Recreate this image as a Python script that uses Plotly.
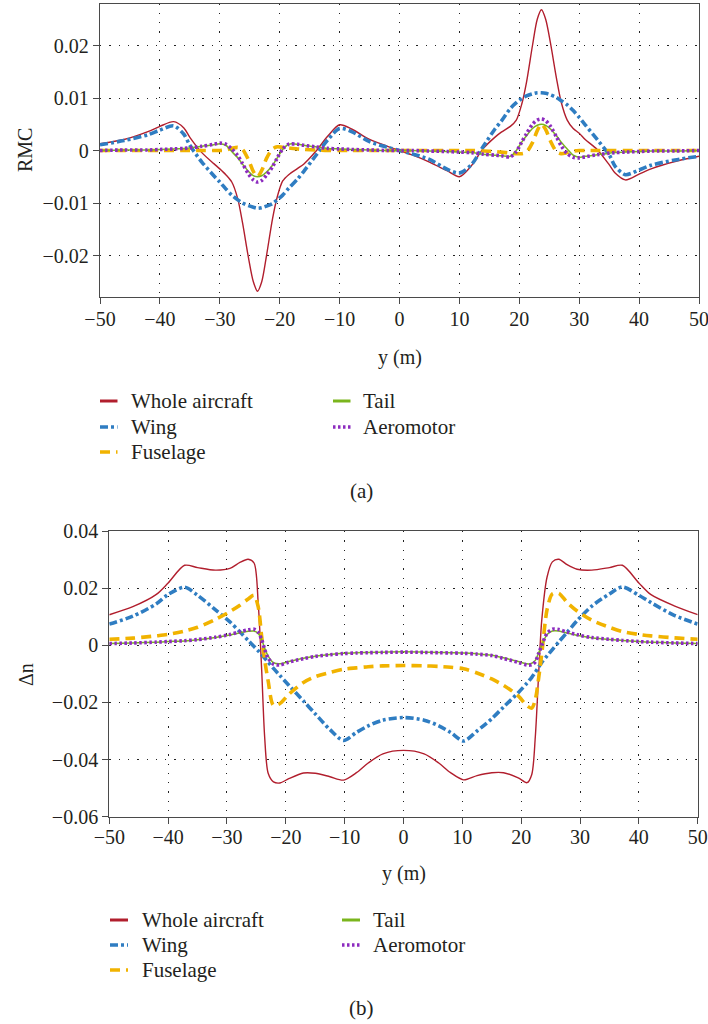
import plotly.graph_objects as go

# ---------------------------------------------------------------- data
SERIES = ["Whole aircraft", "Wing", "Fuselage", "Tail", "Aeromotor"]

# (a) rolling moment coefficient along the span position y
y_a = [-50, -46, -42, -40, -37.7, -36, -35, -33, -31, -30,
       -29, -28, -27, -26.2, -25.2, -24.4, -23.7, -23, -22.2, -21.2,
       -20.4, -19.5, -18.5, -17, -16, -14, -12, -10, -8, -5, -2,
       0,
       2, 5, 8, 10, 12, 14, 16, 17, 18.5, 19.5,
       20.4, 21.2, 22.2, 23, 23.7, 24.4, 25.2, 26.2, 27, 28,
       29, 30, 31, 33, 35, 36, 37.7, 40, 42, 46, 50]

rmc_whole = [0.0013, 0.0021, 0.0036, 0.0046, 0.0055, 0.0043, 0.0025, -0.0004, -0.0025, -0.0035,
             -0.0046, -0.0060, -0.0092, -0.0138, -0.0205, -0.0250, -0.0268, -0.0250, -0.0200, -0.0130,
             -0.0088, -0.0058, -0.0046, -0.0034, -0.0026, -0.0002, 0.0027, 0.0049, 0.0041, 0.0021, 0.0008,
             0.0,
             -0.0008, -0.0022, -0.0039, -0.0050, -0.0029, 0.0004, 0.0026, 0.0035, 0.0046, 0.0058,
             0.0088, 0.0130, 0.0200, 0.0250, 0.0268, 0.0250, 0.0205, 0.0138, 0.0092, 0.0058,
             0.0042, 0.0033, 0.0021, 0.0002, -0.0027, -0.0043, -0.0056, -0.0045, -0.0035, -0.0021, -0.0011]

rmc_wing = [0.0011, 0.0019, 0.0030, 0.0039, 0.0047, 0.0031, 0.0010, -0.0022, -0.0048, -0.0060,
            -0.0073, -0.0085, -0.0094, -0.0100, -0.0105, -0.0108, -0.0110, -0.0109, -0.0106, -0.0101,
            -0.0094, -0.0085, -0.0072, -0.0054, -0.0040, -0.0010, 0.0020, 0.0042, 0.0036, 0.0017, 0.0006,
            0.0,
            -0.0006, -0.0017, -0.0036, -0.0043, -0.0027, 0.0008, 0.0042, 0.0056, 0.0080, 0.0091,
            0.0099, 0.0104, 0.0108, 0.0110, 0.0110, 0.0109, 0.0106, 0.0101, 0.0095, 0.0087,
            0.0076, 0.0063, 0.0049, 0.0021, -0.0008, -0.0030, -0.0046, -0.0037, -0.0028, -0.0018, -0.0011]

rmc_fuselage = [0.0, 0.0, 0.0, 0.0, 0.0, 0.0, 0.0, 0.0, 0.0, 0.0,
                0.0001, 0.0004, 0.0006, 0.0002, -0.0018, -0.0040, -0.0050, -0.0038, -0.0015, 0.0003,
                0.0007, 0.0006, 0.0005, 0.0003, 0.0002, 0.0001, 0.0, 0.0, 0.0, 0.0, 0.0,
                0.0,
                0.0, 0.0, 0.0, 0.0, 0.0, -0.0001, -0.0002, -0.0003, -0.0005, -0.0006,
                -0.0006, -0.0003, 0.0015, 0.0038, 0.0050, 0.0040, 0.0018, -0.0002, -0.0006, -0.0004,
                -0.0001, 0.0, 0.0, 0.0, 0.0, 0.0, 0.0, 0.0, 0.0, 0.0, 0.0]

rmc_tail = [0.0, 0.0001, 0.0001, 0.0002, 0.0003, 0.0004, 0.0005, 0.0008, 0.0011, 0.0013,
            0.0010, -0.0002, -0.0014, -0.0026, -0.0040, -0.0048, -0.0050, -0.0048, -0.0041, -0.0028,
            -0.0014, 0.0002, 0.0012, 0.0012, 0.0010, 0.0007, 0.0004, 0.0003, 0.0002, 0.0001, 0.0,
            0.0,
            0.0, -0.0001, -0.0002, -0.0003, -0.0004, -0.0007, -0.0009, -0.0010, -0.0011, 0.0,
            0.0016, 0.0028, 0.0042, 0.0048, 0.0050, 0.0048, 0.0041, 0.0028, 0.0016, 0.0003,
            -0.0009, -0.0013, -0.0011, -0.0008, -0.0005, -0.0004, -0.0003, -0.0002, -0.0001, -0.0001, 0.0]

rmc_aeromotor = [0.0, 0.0001, 0.0001, 0.0002, 0.0003, 0.0004, 0.0005, 0.0008, 0.0012, 0.0014,
                 0.0012, 0.0003, -0.0010, -0.0025, -0.0045, -0.0056, -0.0060, -0.0057, -0.0047, -0.0031,
                 -0.0014, 0.0003, 0.0012, 0.0012, 0.0010, 0.0007, 0.0004, 0.0003, 0.0002, 0.0001, 0.0,
                 0.0,
                 0.0, -0.0001, -0.0002, -0.0003, -0.0004, -0.0007, -0.0009, -0.0010, -0.0012, -0.0002,
                 0.0016, 0.0032, 0.0050, 0.0058, 0.0060, 0.0057, 0.0046, 0.0026, 0.0009, -0.0006,
                 -0.0013, -0.0014, -0.0012, -0.0008, -0.0005, -0.0004, -0.0003, -0.0002, -0.0001, -0.0001, 0.0]

# (b) load factor increment along the span position y
y_b = [-50, -46, -42, -40, -37.2, -35, -32, -29.5, -27.8, -26.4,
       -25.4, -24.7, -24.1, -23.6, -23, -22.1, -21, -19.5, -17, -15,
       -12.5, -10.2, -8, -6, -3.5,
       0,
       3.5, 6, 8, 10.2, 12.5, 15, 17, 19.5, 21, 21.8,
       22.4, 23, 23.5, 24.4, 25.3, 26.4, 27.8, 29.5, 32, 35,
       37.2, 40, 42, 46, 50]

dn_whole = [0.0107, 0.0135, 0.0178, 0.0218, 0.0280, 0.0272, 0.0263, 0.0269, 0.0290, 0.0301,
            0.0288, 0.0150, -0.0088, -0.0320, -0.0448, -0.0478, -0.0482, -0.0467, -0.0447, -0.0448,
            -0.0460, -0.0472, -0.0446, -0.0412, -0.0380,
            -0.0368,
            -0.0380, -0.0412, -0.0446, -0.0471, -0.0456, -0.0446, -0.0446, -0.0464, -0.0481, -0.0452,
            -0.0321, -0.0088, 0.0088, 0.0239, 0.0292, 0.0301, 0.0282, 0.0266, 0.0263, 0.0272,
            0.0280, 0.0218, 0.0178, 0.0138, 0.0107]

dn_wing = [0.0074, 0.0102, 0.0145, 0.0178, 0.0203, 0.0175, 0.0125, 0.0082, 0.0047, 0.0017,
           -0.0004, -0.0019, -0.0033, -0.0045, -0.0059, -0.0081, -0.0106, -0.0140, -0.0195, -0.0240,
           -0.0295, -0.0333, -0.0305, -0.0282, -0.0262,
           -0.0253,
           -0.0262, -0.0282, -0.0305, -0.0335, -0.0300, -0.0257, -0.0216, -0.0166, -0.0132, -0.0112,
           -0.0095, -0.0075, -0.0060, -0.0037, -0.0015, 0.0012, 0.0045, 0.0086, 0.0137, 0.0180,
           0.0204, 0.0175, 0.0150, 0.0105, 0.0074]

dn_fuselage = [0.0021, 0.0025, 0.0033, 0.0038, 0.0050, 0.0063, 0.0090, 0.0118, 0.0140, 0.0162,
               0.0175, 0.0135, 0.0030, -0.0050, -0.0125, -0.0210, -0.0204, -0.0172, -0.0130, -0.0110,
               -0.0095, -0.0084, -0.0079, -0.0075, -0.0072,
               -0.0071,
               -0.0072, -0.0074, -0.0077, -0.0082, -0.0097, -0.0118, -0.0140, -0.0177, -0.0212, -0.0220,
               -0.0190, -0.0110, -0.0030, 0.0125, 0.0180, 0.0182, 0.0150, 0.0120, 0.0088, 0.0063,
               0.0048, 0.0038, 0.0033, 0.0026, 0.0021]

dn_tail = [0.0006, 0.0008, 0.0011, 0.0013, 0.0015, 0.0019, 0.0027, 0.0036, 0.0044, 0.0049,
           0.0050, 0.0041, 0.0020, -0.0010, -0.0038, -0.0061, -0.0065, -0.0057, -0.0045, -0.0038,
           -0.0032, -0.0028, -0.0026, -0.0025, -0.0024,
           -0.0023,
           -0.0024, -0.0025, -0.0026, -0.0027, -0.0030, -0.0035, -0.0044, -0.0057, -0.0065, -0.0063,
           -0.0053, -0.0025, 0.0000, 0.0038, 0.0050, 0.0050, 0.0043, 0.0035, 0.0026, 0.0020,
           0.0017, 0.0013, 0.0011, 0.0008, 0.0006]

dn_aeromotor = [0.0006, 0.0008, 0.0011, 0.0013, 0.0016, 0.0020, 0.0028, 0.0038, 0.0047, 0.0054,
                0.0056, 0.0045, 0.0020, -0.0014, -0.0045, -0.0066, -0.0069, -0.0059, -0.0047, -0.0039,
                -0.0033, -0.0029, -0.0027, -0.0026, -0.0025,
                -0.0024,
                -0.0025, -0.0026, -0.0027, -0.0028, -0.0031, -0.0036, -0.0046, -0.0060, -0.0069, -0.0068,
                -0.0058, -0.0027, 0.0000, 0.0042, 0.0056, 0.0055, 0.0046, 0.0037, 0.0027, 0.0021,
                0.0017, 0.0013, 0.0011, 0.0008, 0.0006]

x_ticks = [-50, -40, -30, -20, -10, 0, 10, 20, 30, 40, 50]
x_ticktext = ["\u221250", "\u221240", "\u221230", "\u221220", "\u221210", "0", "10", "20", "30", "40", "50"]
rmc_ticks = [-0.02, -0.01, 0, 0.01, 0.02]
rmc_ticktext = ["\u22120.02", "\u22120.01", "0", "0.01", "0.02"]
dn_ticks = [-0.06, -0.04, -0.02, 0, 0.02, 0.04]
dn_ticktext = ["\u22120.06", "\u22120.04", "\u22120.02", "0", "0.02", "0.04"]

# ---------------------------------------------------------------- styles
W, H = 708, 1024
FONT = "Liberation Serif, Times New Roman, serif"
TXT = "#231f20"
STYLE = {
    "Whole aircraft": dict(color="#B11E2D", width=1.4, dash="solid"),
    "Wing": dict(color="#2F7DC2", width=3.6, dash="8px,3px,3px,3px"),
    "Fuselage": dict(color="#F1B300", width=3.6, dash="10px,6px"),
    "Tail": dict(color="#7AB51D", width=1.5, dash="solid"),
    "Aeromotor": dict(color="#8C2BBF", width=3.6, dash="2.5px,2.5px"),
}
# thin solid lines are drawn heavier in the key swatches
SWATCH_WIDTH = {"Whole aircraft": 3, "Tail": 3}


def px_x(p):
    return p / W


def px_y(p):
    return 1 - p / H


fig = go.Figure()

panel_a = [rmc_whole, rmc_wing, rmc_fuselage, rmc_tail, rmc_aeromotor]
panel_b = [dn_whole, dn_wing, dn_fuselage, dn_tail, dn_aeromotor]

for name, vals in zip(SERIES, panel_a):
    fig.add_trace(go.Scatter(x=y_a, y=vals, mode="lines", name=name, showlegend=False,
                             line=dict(shape="spline", smoothing=0.8, **STYLE[name]),
                             xaxis="x", yaxis="y"))
for name, vals in zip(SERIES, panel_b):
    fig.add_trace(go.Scatter(x=y_b, y=vals, mode="lines", name=name, showlegend=False,
                             line=dict(shape="spline", smoothing=0.8, **STYLE[name]),
                             xaxis="x2", yaxis="y2"))

axis_common = dict(
    automargin=False, ticklabeloverflow="allow",
    showline=True, linecolor="#4a4a4a", linewidth=1.3, mirror=True,
    ticks="outside", ticklen=6, tickwidth=1.3, tickcolor="#4a4a4a",
    showgrid=True, gridcolor="#222222", gridwidth=1.2, griddash="1.3px,8px",
    zeroline=False, tickfont=dict(family=FONT, size=20, color=TXT),
)

fig.update_layout(
    template="none",
    width=W, height=H, autosize=False,
    margin=dict(l=0, r=0, t=0, b=0, pad=0),
    paper_bgcolor="white", plot_bgcolor="white",
    showlegend=False,
    xaxis=dict(domain=[px_x(100), px_x(699)], range=[-50, 50], anchor="y",
               tickvals=x_ticks, ticktext=x_ticktext, ticklabelstandoff=-2, **axis_common),
    yaxis=dict(domain=[px_y(297), px_y(3.5)], range=[-0.0279, 0.0280], anchor="x",
               tickvals=rmc_ticks, ticktext=rmc_ticktext, **axis_common),
    xaxis2=dict(domain=[px_x(109.3), px_x(697.7)], range=[-50, 50], anchor="y2",
                tickvals=x_ticks, ticktext=x_ticktext, ticklabelstandoff=-4, **axis_common),
    yaxis2=dict(domain=[px_y(816.7), px_y(531)], range=[-0.06, 0.04], anchor="x2",
                tickvals=dn_ticks, ticktext=dn_ticktext, **axis_common),
)

annotations = []
shapes = []


def text(x, y, s, size=21, anchor="left", angle=0):
    annotations.append(dict(x=px_x(x), y=px_y(y), xref="paper", yref="paper", text=s,
                            showarrow=False, xanchor=anchor, yanchor="middle", textangle=angle,
                            font=dict(family=FONT, size=size, color=TXT)))


# axis titles and panel captions
text(399.5, 357, "y (m)", size=20, anchor="center")
text(403.5, 873, "y (m)", size=20, anchor="center")
text(25, 150, "RMC", size=20, anchor="center", angle=-90)
text(26, 675, "\u0394n", size=20, anchor="center", angle=-90)
text(361, 491, "(a)", size=21, anchor="center")
text(361, 1008, "(b)", size=21, anchor="center")

# keys: two columns, column-major order
LEGEND_SLOTS = {"Whole aircraft": (0, 0), "Wing": (0, 1), "Fuselage": (0, 2),
                "Tail": (1, 0), "Aeromotor": (1, 1)}


def legend(sw_x, txt_x, rows, sw_len):
    for name in SERIES:
        col, row = LEGEND_SLOTS[name]
        y = rows[row]
        st = STYLE[name]
        shapes.append(dict(type="line", xref="paper", yref="paper",
                           x0=px_x(sw_x[col]), x1=px_x(sw_x[col] + sw_len),
                           y0=px_y(y), y1=px_y(y),
                           line=dict(color=st["color"], width=SWATCH_WIDTH.get(name, st["width"]),
                                     dash=st["dash"])))
        text(txt_x[col], y, name)


legend([100, 333], [129, 361], [401, 427, 452], 17.5)
legend([110, 342], [139.5, 371], [920, 945, 970], 18)

fig.update_layout(annotations=annotations, shapes=shapes)

fig.write_html("out.html")
